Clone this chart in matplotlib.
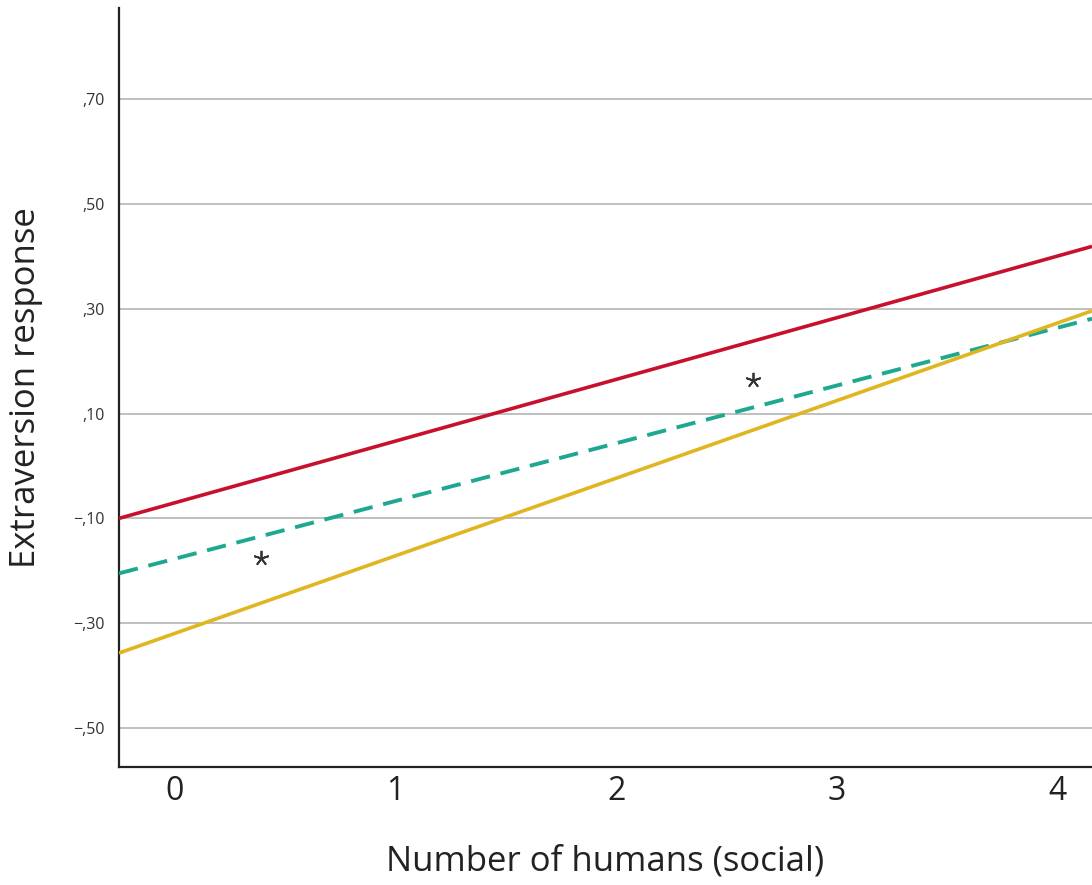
import matplotlib
matplotlib.use("Agg")
import matplotlib.pyplot as plt

plt.rcParams['font.family'] = ['Open Sans', 'DejaVu Sans']

# data
x_ends = [-0.25, 4.154]
red_y = [-0.10, 0.419]
teal_y = [-0.205, 0.281]
yellow_y = [-0.357, 0.296]
star_x = [0.394, 2.62]
star_y = [-0.176, 0.165]
yticks = [-0.5, -0.3, -0.1, 0.1, 0.3, 0.5, 0.7]
ytick_labels = ["\u2212,50", "\u2212,30", "\u2212,10", ",10", ",30", ",50", ",70"]
xticks = [0, 1, 2, 3, 4]
xtick_labels = ["0", "1", "2", "3", "4"]

fig = plt.figure(figsize=(10.92, 8.85), dpi=100)
ax = fig.add_axes([119/1092, 118/885, 1 - 119/1092, (767-8)/885])

ax.set_xlim(-0.25, 4.154)
ax.set_ylim(-0.5745, 0.874)

for yv in yticks:
    ax.axhline(yv, color='#b4b4b4', lw=1.2, zorder=1)

ax.plot(x_ends, red_y, color='#c8102e', lw=2.6, zorder=3, solid_capstyle='butt')
ax.plot(x_ends, teal_y, color='#1ea890', lw=2.8, ls=(0, (5, 2.8)), zorder=3)
ax.plot(x_ends, yellow_y, color='#e0b620', lw=2.6, zorder=3, solid_capstyle='butt')

ax.plot(star_x, star_y, ls='none', marker=(5, 2, 0), markersize=11,
        markeredgewidth=1.3, color='#333333', zorder=4)

ax.set_yticks(yticks)
ax.set_yticklabels(ytick_labels, fontsize=11.5, color='#333333')
ax.set_xticks(xticks)
ax.set_xticklabels(xtick_labels, fontsize=23, color='#222222')
ax.tick_params(axis='both', length=0)
ax.tick_params(axis='y', pad=10)
ax.tick_params(axis='x', pad=6)

for s in ['top', 'right']:
    ax.spines[s].set_visible(False)
ax.spines['left'].set_linewidth(1.6)
ax.spines['bottom'].set_linewidth(1.6)
ax.spines['left'].set_color('#222222')
ax.spines['bottom'].set_color('#222222')

ax.set_xlabel("Number of humans (social)", fontsize=25, color='#222222', labelpad=26)
ax.set_ylabel("Extraversion response", fontsize=25, color='#222222', labelpad=22)

fig.savefig("out.png", dpi=100)
